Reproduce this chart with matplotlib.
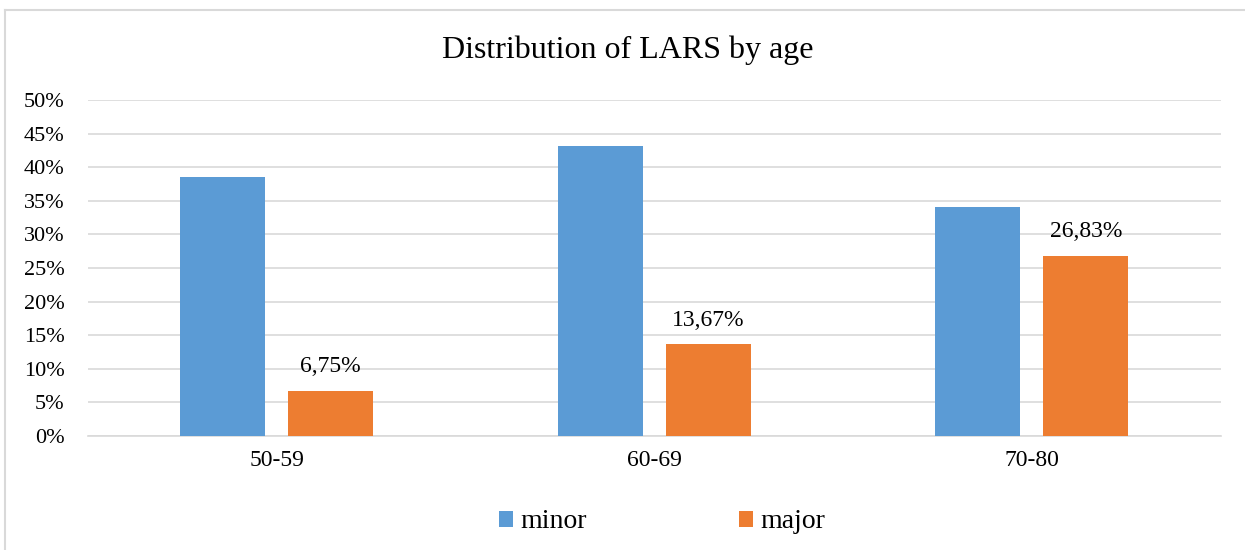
import matplotlib.pyplot as plt
from matplotlib.lines import Line2D
import numpy as np

plt.rcParams['font.family'] = ['Liberation Serif', 'DejaVu Serif']

groups = ['50-59', '60-69', '70-80']
minor = [38.6, 43.1, 34.1]
major = [6.75, 13.67, 26.83]
major_labels = ['6,75%', '13,67%', '26,83%']

blue = '#5B9BD5'
orange = '#ED7D31'

fig = plt.figure(figsize=(12.45, 5.5), dpi=100)
ax = fig.add_axes([88 / 1245, 1 - 436 / 550, (1221 - 88) / 1245, (436 - 100) / 550])

# chart border: only left and top edges are inside the picture
bx, by = 5.5 / 1245, 1 - 10 / 550
fig.add_artist(Line2D([bx, bx], [0, by], transform=fig.transFigure, color='#D9D9D9', linewidth=1.5))
fig.add_artist(Line2D([bx, 1], [by, by], transform=fig.transFigure, color='#D9D9D9', linewidth=1.5))

x = np.arange(len(groups))
w = 0.225
b1 = ax.bar(x - 0.144, minor, w, color=blue, label='minor', zorder=3)
b2 = ax.bar(x + 0.142, major, w, color=orange, label='major', zorder=3)

for rect, lab in zip(b2, major_labels):
    ax.text(rect.get_x() + rect.get_width() / 2, rect.get_height() + 2.0, lab,
            ha='center', va='bottom', fontsize=17, color='#000000', zorder=4)

ax.set_xlim(-0.5, 2.5)
ax.set_ylim(0, 50)
ax.set_yticks(np.arange(0, 51, 5))
ax.set_yticklabels([str(v) + '%' for v in range(0, 51, 5)])
ax.set_xticks(x)
ax.set_xticklabels(groups)
ax.tick_params(axis='both', length=0, colors='#000000')
ax.tick_params(axis='x', pad=10, labelsize=17)
ax.tick_params(axis='y', pad=17, labelsize=16)
ax.grid(axis='y', color='#D9D9D9', linewidth=1.2, zorder=0)
for s in ['top', 'right', 'left']:
    ax.spines[s].set_visible(False)
ax.spines['bottom'].set_color('#D9D9D9')
ax.spines['bottom'].set_linewidth(1.2)

fig.text(628 / 1245, 1 - 50 / 550, 'Distribution of LARS by age', ha='center', va='center', fontsize=23)

fig.legend(handles=[b1, b2], labels=['minor', 'major'], loc='center', bbox_to_anchor=(662 / 1245, 1 - 522 / 550),
           ncol=2, frameon=False, fontsize=20, handlelength=0.5, handleheight=0.5,
           columnspacing=5.5, handletextpad=0.25)

fig.savefig('out.png', dpi=100)
